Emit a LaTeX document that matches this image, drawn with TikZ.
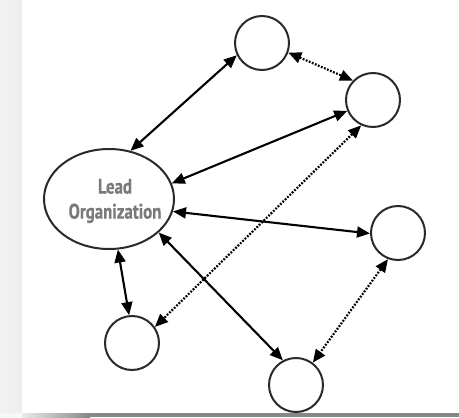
\documentclass[tikz,border=0pt]{standalone}
\usepackage{fontspec}
\newfontfamily\labelfont[FakeStretch=0.8,FakeBold=0.6]{PT Sans}
\usetikzlibrary{arrows.meta,shapes.geometric}
\definecolor{edgegray}{HTML}{2A2A2A}
\definecolor{textgray}{HTML}{7A7A7A}
\begin{document}
\begin{tikzpicture}[x=1pt,y=-1pt,
  peer/.style={circle,draw=edgegray,line width=2pt,minimum size=54pt,inner sep=0pt},
  lead/.style={ellipse,draw=edgegray,line width=2pt,minimum width=130pt,minimum height=100pt,inner sep=0pt},
  link/.style={draw=black,line width=2.1pt,{Triangle[length=13pt,width=11pt]}-{Triangle[length=13pt,width=11pt]}},
  dotlink/.style={link,line width=2.2pt,dash pattern=on 1.8pt off 1.5pt}]
\useasboundingbox (0,0) rectangle (459,418);
\fill[white] (0,0) rectangle (459,418);
\shade[left color=black!5,right color=black!7] (0,0) rectangle (22,413);
\shade[left color=black!8,right color=black!47] (22,413) rectangle (90,417);
\fill[black!47] (90,413) rectangle (459,417);
\fill[black!3] (0,413) rectangle (22,418);

\node[lead] (L) at (109,199) {};
\node[text=textgray,font=\labelfont\bfseries\fontsize{21}{25}\selectfont,align=center] (T) at (115,201) {Lead\\Organization};
\node[peer] (A) at (262,43) {};
\node[peer] (B) at (373,100) {};
\node[peer] (C) at (398,233) {};
\node[peer] (D) at (296,385) {};
\node[peer] (E) at (132,343) {};

\draw[link] (L.66) -- (A.206);
\draw[link] (L.14) -- (B.203);
\draw[link] (L.-11) -- (C.181);
\draw[link] (L.-34) -- (D.118);
\draw[link] (L.-80) -- (E.96);
\draw[dotlink] (A.-20) -- (B.136);
\draw[dotlink] (B.245) -- (E.35);
\draw[dotlink] (C.249) -- (D.53);
\end{tikzpicture}
\end{document}
